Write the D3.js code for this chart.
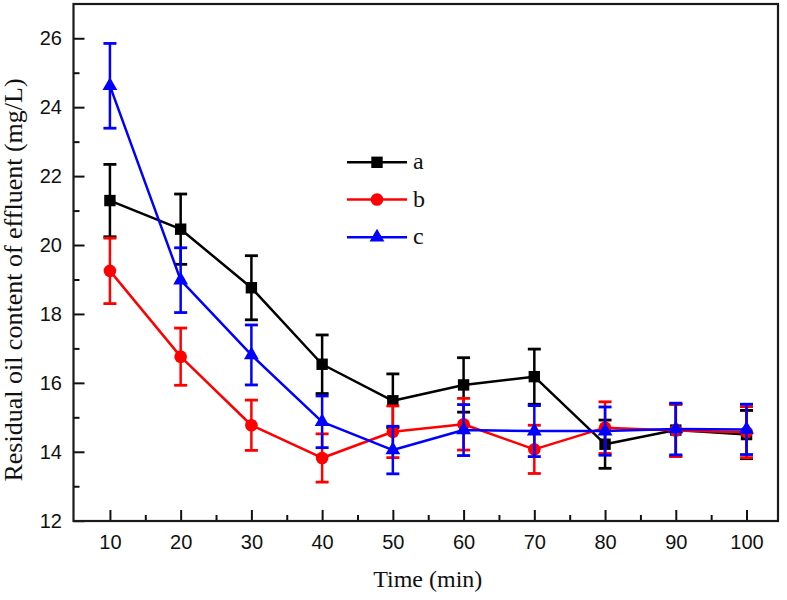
<!DOCTYPE html>
<html>
<head>
<meta charset="utf-8">
<script src="https://cdn.jsdelivr.net/npm/d3@7"></script>
<style>
  html, body { margin: 0; padding: 0; background: #fff; }
  svg { display: block; }
</style>
</head>
<body>
<svg id="chart" width="787" height="600"></svg>
<script>
// ---- data ----
const times = [10, 20, 30, 40, 50, 60, 70, 80, 90, 100];
const seriesNames = ["a", "b", "c"];
const aVals = [21.29, 20.46, 18.76, 16.54, 15.48, 15.94, 16.18, 14.22, 14.63, 14.50];
const aErr  = [1.05, 1.02, 0.93, 0.85, 0.78, 0.79, 0.80, 0.70, 0.75, 0.70];
const bVals = [19.25, 16.76, 14.77, 13.82, 14.58, 14.80, 14.07, 14.70, 14.62, 14.57];
const bErr  = [0.95, 0.83, 0.73, 0.70, 0.75, 0.75, 0.70, 0.75, 0.76, 0.74];
const cVals = [24.62, 18.98, 16.81, 14.87, 14.05, 14.63, 14.60, 14.60, 14.66, 14.65];
const cErr  = [1.23, 0.94, 0.87, 0.75, 0.69, 0.74, 0.74, 0.70, 0.75, 0.73];
const xTicks = [10, 20, 30, 40, 50, 60, 70, 80, 90, 100];
const xMinorTicks = [15, 25, 35, 45, 55, 65, 75, 85, 95];
const yTicks = [12, 14, 16, 18, 20, 22, 24, 26];
const yMinorTicks = [13, 15, 17, 19, 21, 23, 25];
const xTitle = "Time (min)";
const yTitle = "Residual oil content of effluent (mg/L)";

const svg = d3.select("#chart");
const L = 73.5, R = 778, T = 4, B = 521;
const x = d3.scaleLinear().domain([4.85, 104.45]).range([L, R]);
const y = d3.scaleLinear().domain([12, 27]).range([520.7, 3.8]);

const sans = "'Liberation Sans', Arial, sans-serif";
const serif = "'Liberation Serif', 'Times New Roman', serif";

// axes (ticks inward)
const gx = svg.append("g").attr("transform", `translate(0,${B})`)
  .call(d3.axisBottom(x).tickValues(xTicks).tickSize(-11).tickSizeOuter(0).tickPadding(14).tickFormat(d3.format("d")));
const gxm = svg.append("g").attr("transform", `translate(0,${B})`)
  .call(d3.axisBottom(x).tickValues(xMinorTicks).tickSize(-6).tickSizeOuter(0).tickFormat(""));
const gy = svg.append("g").attr("transform", `translate(${L},0)`)
  .call(d3.axisLeft(y).tickValues(yTicks).tickSize(-11).tickSizeOuter(0).tickPadding(11.5).tickFormat(d3.format("d")));
const gym = svg.append("g").attr("transform", `translate(${L},0)`)
  .call(d3.axisLeft(y).tickValues(yMinorTicks).tickSize(-6).tickSizeOuter(0).tickFormat(""));
[gx, gxm, gy, gym].forEach(g => {
  g.select(".domain").remove();
  g.selectAll(".tick line").attr("stroke", "#111").attr("stroke-width", 2);
  g.selectAll(".tick text").attr("font-family", sans).attr("font-size", 20).attr("fill", "#111");
});

// frame
svg.append("rect").attr("x", L).attr("y", T).attr("width", R - L).attr("height", B - T)
  .attr("fill", "none").attr("stroke", "#1a1a1a").attr("stroke-width", 2.2);

// titles
svg.append("text").attr("x", (L + R) / 2 + 2).attr("y", 587)
  .attr("text-anchor", "middle").attr("font-family", serif).attr("font-size", 24).attr("fill", "#111")
  .text(xTitle);
svg.append("text").attr("transform", "translate(22,280) rotate(-90)")
  .attr("text-anchor", "middle").attr("font-family", serif).attr("font-size", 26).attr("fill", "#111")
  .text(yTitle);

// series
const series = [
  { name: seriesNames[0], vals: aVals, err: aErr, color: "#000000", shape: d3.symbolSquare, size: 130 },
  { name: seriesNames[1], vals: bVals, err: bErr, color: "#ff0000", shape: d3.symbolCircle, size: 125 },
  { name: seriesNames[2], vals: cVals, err: cErr, color: "#0000ff", shape: d3.symbolTriangle, size: 95 }
];

const line = d3.line().x(d => x(d.t)).y(d => y(d.v));
const capW = 6.5;

series.forEach(s => {
  const pts = times.map((t, i) => ({ t, v: s.vals[i], e: s.err[i] }));
  const g = svg.append("g");
  // error bars
  const eb = g.selectAll(".eb").data(pts).enter().append("g");
  eb.append("line").attr("x1", d => x(d.t)).attr("x2", d => x(d.t))
    .attr("y1", d => y(d.v + d.e)).attr("y2", d => y(d.v - d.e))
    .attr("stroke", s.color).attr("stroke-width", 2.5);
  eb.append("line").attr("x1", d => x(d.t) - capW).attr("x2", d => x(d.t) + capW)
    .attr("y1", d => y(d.v + d.e)).attr("y2", d => y(d.v + d.e))
    .attr("stroke", s.color).attr("stroke-width", 2.8);
  eb.append("line").attr("x1", d => x(d.t) - capW).attr("x2", d => x(d.t) + capW)
    .attr("y1", d => y(d.v - d.e)).attr("y2", d => y(d.v - d.e))
    .attr("stroke", s.color).attr("stroke-width", 2.8);
  // line
  g.append("path").datum(pts).attr("d", line).attr("fill", "none")
    .attr("stroke", s.color).attr("stroke-width", 2.5).attr("stroke-linejoin", "round");
  // markers
  g.selectAll(".mk").data(pts).enter().append("path")
    .attr("d", d3.symbol().type(s.shape).size(s.size))
    .attr("transform", d => `translate(${x(d.t)},${y(d.v)})`)
    .attr("fill", s.color);
});

// legend
const legY = [162.3, 199.5, 237.3];
series.forEach((s, i) => {
  const g = svg.append("g").attr("transform", `translate(0,${legY[i]})`);
  g.append("line").attr("x1", 347).attr("x2", 407).attr("y1", 0).attr("y2", 0)
    .attr("stroke", s.color).attr("stroke-width", 2.5);
  g.append("path").attr("d", d3.symbol().type(s.shape).size(s.size))
    .attr("transform", "translate(377,0)").attr("fill", s.color);
  g.append("text").attr("x", 413).attr("y", 7).attr("font-family", serif).attr("font-size", 24)
    .attr("fill", "#111").text(s.name);
});
</script>
</body>
</html>
